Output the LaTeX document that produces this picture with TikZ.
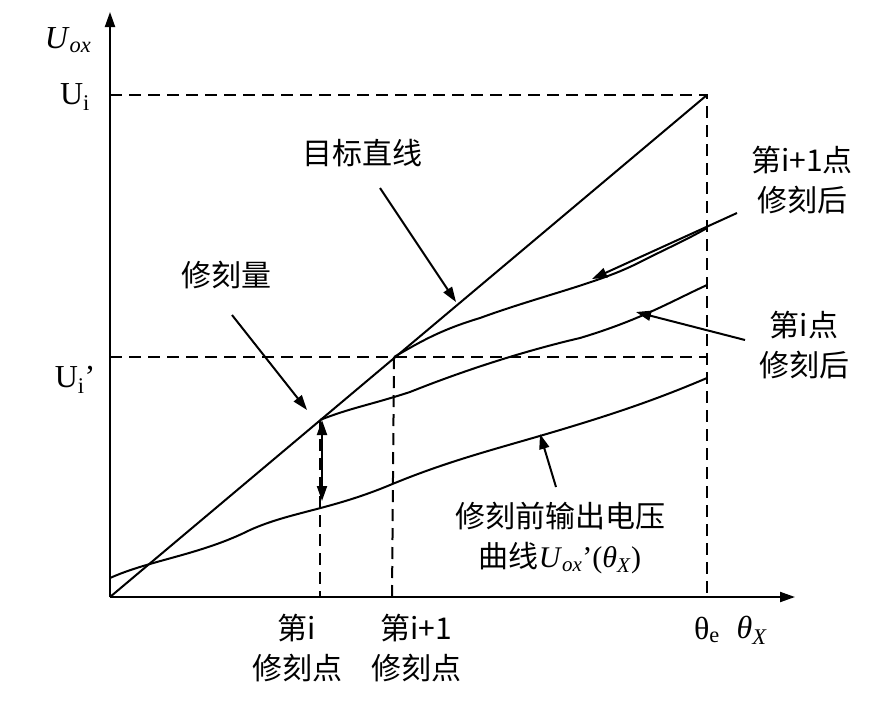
\documentclass[tikz,border=0pt]{standalone}
\usepackage{fontspec}
\setmainfont{Liberation Serif}
\newfontfamily\cjk{Noto Sans CJK SC}
\usetikzlibrary{arrows.meta}
\begin{document}
\begin{tikzpicture}[x=1pt,y=-1pt,line width=2pt,
  lbl/.style={font=\cjk\fontsize{30}{40}\selectfont,align=center,inner sep=0},
  lat/.style={font=\fontsize{32}{36}\selectfont},
  dsh/.style={dash pattern=on 12pt off 7pt},
  arr/.style={-{Triangle[length=15pt,width=10pt]}}]
\useasboundingbox (0,0) rectangle (882,707);
\coordinate (O) at (110,597);
\coordinate (Ytop) at (110,12);
\coordinate (Xend) at (795,597);
\draw[arr] (O) -- (Ytop);
\draw[arr] (O) -- (Xend);
\coordinate (E) at (707,95);
\draw[dsh] (110,95) -- (E) -- (707,597);
\draw[dsh] (110,357) -- (707,357);
\draw (O) -- (E);
\coordinate (A) at (320,420);
\coordinate (B) at (394,357);
\draw[dsh] (A) -- (320,597);
\draw[dsh] (B) -- (392,597);
% curves
\draw (110,578) .. controls (150,560) and (200,555) .. (250,530) .. controls (290,512) and (330,510) .. (390,485) .. controls (450,460) and (500,448) .. (560,430) .. controls (620,412) and (660,398) .. (707,378);
\draw (A) .. controls (350,408) and (370,405) .. (410,392) .. controls (460,372) and (520,352) .. (580,338) .. controls (640,320) and (670,302) .. (707,285);
\draw (B) .. controls (420,342) and (440,330) .. (480,318) .. controls (540,296) and (600,283) .. (640,262) .. controls (670,247) and (690,238) .. (707,228);
\coordinate (DA) at (322,420);
\coordinate (DB) at (322,501);
\draw[{Triangle[length=15pt,width=10pt]}-{Triangle[length=15pt,width=10pt]}] (DA) -- (DB);
% labels
\node[lbl] (tgt) at (362,153) {目标直线};
\draw[arr] (380,188) -- (456,302);
\node[lbl] (xkl) at (226,275) {修刻量};
\draw[arr] (232,315) -- (307,410);
\node[lbl] (p1) at (802,180) {第\textit{i}+1点\\修刻后};
\draw[arr] (737,213) -- (592,279);
\node[lbl] (p2) at (804,345) {第\textit{i}点\\修刻后};
\draw[arr] (745,340) -- (636,312);
\node[lbl] (pre) at (560,538) {修刻前输出电压\\曲线\rmfamily\textit{U}\textsubscript{\textit{ox}}’(\textit{θ}\textsubscript{\textit{X}})};
\draw[arr] (556,487) -- (540,434);
\node[lbl] (ti) at (297,648) {第\textit{i}\\修刻点};
\node[lbl] (ti1) at (416,648) {第\textit{i}+1\\修刻点};
\node[lat] (te) at (707,630) {θ\textsubscript{e}};
\node[lat] (tx) at (752,630) {\textit{θ}\textsubscript{\textit{X}}};
\node[lat] (uox) at (68,40) {\textit{U}\textsubscript{\textit{ox}}};
\node[lat] (ui) at (75,97) {U\textsubscript{i}};
\node[lat] (uip) at (75,380) {U\textsubscript{i}’};
\end{tikzpicture}
\end{document}
